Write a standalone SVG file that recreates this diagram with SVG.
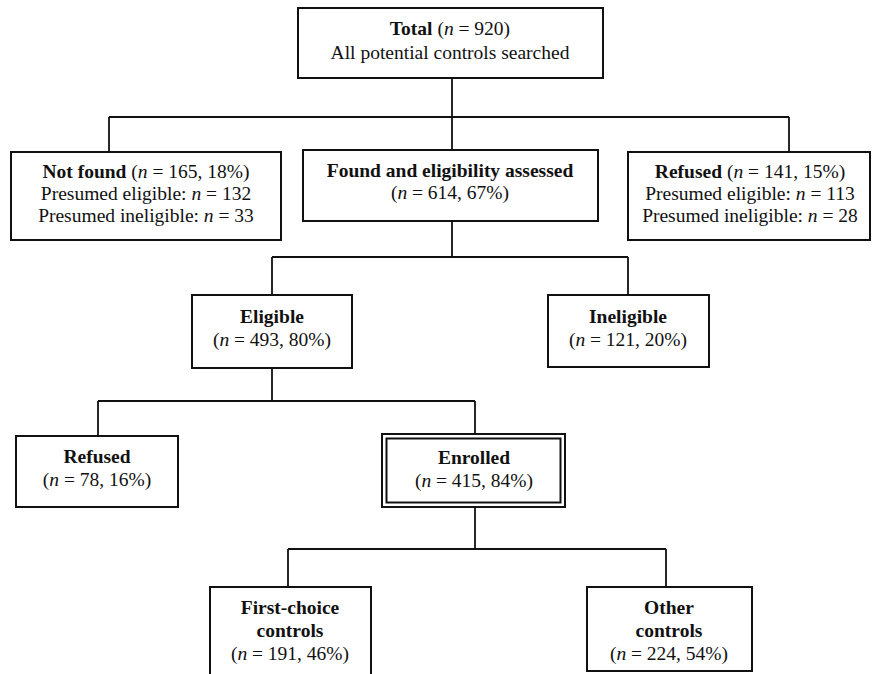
<svg xmlns="http://www.w3.org/2000/svg" width="878" height="674" viewBox="0 0 878 674">
<style>
.box{fill:#fff;stroke:#111;stroke-width:2}
.ln{fill:none;stroke:#111;stroke-width:1.8}
text{font-family:"Liberation Serif","Times New Roman",serif;font-size:19.5px;fill:#111;text-anchor:middle}
.b{font-weight:bold}
.i{font-style:italic}
</style>
<rect width="878" height="674" fill="#fff"/>
<g id="connectors">
<path class="ln" d="M452 78V117M109 117H789M109 117V152M789 117V152M452 117V150"/>
<path class="ln" d="M452 221V257M272 257H628M272 257V295M628 257V295"/>
<path class="ln" d="M272 368V401M98 401H475M98 401V436M475 401V434"/>
<path class="ln" d="M475 507V549M288 549H666M288 549V587M666 549V587"/>
</g>
<g id="total">
<rect class="box" x="298" y="8" width="305" height="70"/>
<text x="450" y="35"><tspan class="b">Total</tspan> (<tspan class="i">n</tspan> = 920)</text>
<text x="450" y="59">All potential controls searched</text>
</g>
<g id="notfound">
<rect class="box" x="11" y="152" width="270" height="88"/>
<text x="146" y="178"><tspan class="b">Not found</tspan> (<tspan class="i">n</tspan> = 165, 18%)</text>
<text x="146" y="200">Presumed eligible: <tspan class="i">n</tspan> = 132</text>
<text x="146" y="222">Presumed ineligible: <tspan class="i">n</tspan> = 33</text>
</g>
<g id="found">
<rect class="box" x="303" y="150" width="295" height="71"/>
<text x="450" y="177" class="b">Found and eligibility assessed</text>
<text x="450" y="199">(<tspan class="i">n</tspan> = 614, 67%)</text>
</g>
<g id="refused1">
<rect class="box" x="628" y="152" width="242" height="88"/>
<text x="750" y="178"><tspan class="b">Refused</tspan> (<tspan class="i">n</tspan> = 141, 15%)</text>
<text x="750" y="200">Presumed eligible: <tspan class="i">n</tspan> = 113</text>
<text x="750" y="222">Presumed ineligible: <tspan class="i">n</tspan> = 28</text>
</g>
<g id="eligible">
<rect class="box" x="192" y="295" width="160" height="73"/>
<text x="272" y="323" class="b">Eligible</text>
<text x="272" y="346">(<tspan class="i">n</tspan> = 493, 80%)</text>
</g>
<g id="ineligible">
<rect class="box" x="548" y="295" width="161" height="72"/>
<text x="628" y="323" class="b">Ineligible</text>
<text x="628" y="346">(<tspan class="i">n</tspan> = 121, 20%)</text>
</g>
<g id="refused2">
<rect class="box" x="16" y="436" width="162" height="71"/>
<text x="97" y="463" class="b">Refused</text>
<text x="97" y="486">(<tspan class="i">n</tspan> = 78, 16%)</text>
</g>
<g id="enrolled">
<rect class="box" x="382" y="434" width="183" height="73" stroke-width="2.5"/>
<rect class="box" x="386.5" y="438.5" width="174" height="64" stroke-width="1.5"/>
<text x="474" y="464" class="b">Enrolled</text>
<text x="474" y="487">(<tspan class="i">n</tspan> = 415, 84%)</text>
</g>
<g id="firstchoice">
<rect class="box" x="210" y="587" width="161" height="95"/>
<text x="290" y="614" class="b">First-choice</text>
<text x="290" y="637" class="b">controls</text>
<text x="290" y="660">(<tspan class="i">n</tspan> = 191, 46%)</text>
</g>
<g id="other">
<rect class="box" x="587" y="587" width="165" height="84"/>
<text x="669" y="614" class="b">Other</text>
<text x="669" y="637" class="b">controls</text>
<text x="669" y="660">(<tspan class="i">n</tspan> = 224, 54%)</text>
</g>
</svg>
